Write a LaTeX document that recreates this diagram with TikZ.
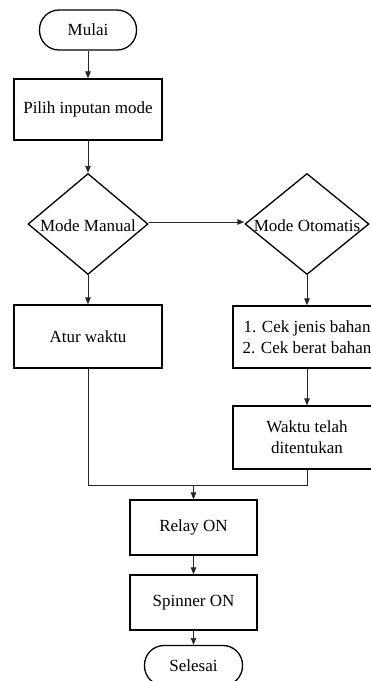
\documentclass[tikz,border=0pt]{standalone}
\usepackage{fontspec}
\setmainfont{Liberation Serif}
\usetikzlibrary{arrows.meta,shapes.geometric}
\begin{document}
\begin{tikzpicture}[x=1pt,y=-1pt,
  every node/.style={font=\fontsize{17}{21}\selectfont, inner sep=0pt},
  proc/.style={draw, line width=1.3pt, rectangle, align=center},
  term/.style={draw, line width=1.3pt, rectangle, rounded corners=19.5pt, minimum width=97pt, minimum height=40pt},
  dec/.style={draw, line width=1.3pt, diamond, minimum width=#1, minimum height=101pt},
  conn/.style={draw=black!85, line width=0.8pt},
  arr/.style={conn, -{Triangle[length=7pt,width=5.5pt]}}]
\useasboundingbox (0,0) rectangle (371,681);
\clip (0,0) rectangle (371,681);
\node[term] (mulai) at (88,30) {Mulai};
\node[proc, minimum width=148pt, minimum height=61pt] (pilih) at (88,109.5) {Pilih inputan mode};
\node[dec=120pt, label={[yshift=-2pt]center:Mode Manual}] (man) at (88,224) {};
\node[dec=124pt, label={[yshift=-2pt]center:Mode Otomatis}] (oto) at (307,224) {};
\node[proc, minimum width=148pt, minimum height=63pt] (atur) at (88,336.5) {Atur waktu};
\node[proc, minimum width=148pt, minimum height=62pt] (cek) at (307,337) {1. Cek jenis bahan\\2. Cek berat bahan};
\node[proc, minimum width=148pt, minimum height=63pt] (waktu) at (307,437.5) {Waktu telah\\ditentukan};
\node[proc, minimum width=127pt, minimum height=55pt] (relay) at (193.5,527.5) {Relay ON};
\node[proc, minimum width=127pt, minimum height=55pt] (spin) at (193.5,602.5) {Spinner ON};
\node[term, minimum width=98pt] (selesai) at (193.5,665.5) {Selesai};
\coordinate (j) at (193.5,485);
\draw[arr] (mulai) -- (pilih);
\draw[arr] (pilih) -- (man);
\draw[arr] ([yshift=2pt]man.east) -- ([yshift=2pt]oto.west);
\draw[arr] (man) -- (atur);
\draw[arr] (oto) -- (cek);
\draw[arr] (cek) -- (waktu);
\draw[conn] (atur.south) |- (j);
\draw[conn] (waktu.south) |- (j);
\draw[arr] (j) -- (relay);
\draw[arr] (relay) -- (spin);
\draw[arr] (spin) -- (selesai);
\end{tikzpicture}
\end{document}
